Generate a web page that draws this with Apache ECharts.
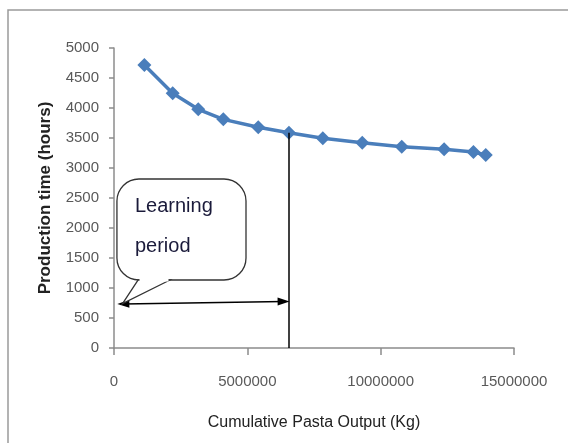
<!DOCTYPE html>
<html><head><meta charset="utf-8">
<script src="https://cdn.jsdelivr.net/npm/echarts@6/dist/echarts.min.js"></script>
<style>html,body{margin:0;padding:0;background:#fff}#c{width:568px;height:443px}</style>
</head><body><div id="c"></div>
<script>
// Data
const outputKg = [1140000, 2200000, 3160000, 4100000, 5410000, 6560000, 7830000, 9310000, 10790000, 12380000, 13480000, 13940000];
const productionHours = [4717, 4245, 3978, 3811, 3678, 3589, 3495, 3422, 3356, 3311, 3267, 3217];
const yTicks = [0, 500, 1000, 1500, 2000, 2500, 3000, 3500, 4000, 4500, 5000];
const xTicks = [0, 5000000, 10000000, 15000000];
const learningEndX = 6560000;
const learningEndY = 3589;
const arrowX = [350000, 6360000];
const arrowY = [735, 775];
const calloutText = ['Learning', 'period'];

const chart = echarts.init(document.getElementById('c'));
const labelFont = 'Liberation Sans';
chart.setOption({
  animation: false,
  grid: { left: 114, top: 48, width: 400, height: 300, containLabel: false },
  xAxis: {
    type: 'value', min: xTicks[0], max: xTicks[xTicks.length - 1], interval: xTicks[1] - xTicks[0],
    name: 'Cumulative Pasta Output (Kg)', nameLocation: 'middle', nameGap: 67,
    nameTextStyle: { fontFamily: labelFont, fontSize: 16, color: '#222' },
    axisLine: { show: true, lineStyle: { color: '#8c8c8c', width: 1.5 } },
    axisTick: { show: true, length: 7, lineStyle: { color: '#8c8c8c', width: 1.5 } },
    axisLabel: { margin: 26, fontFamily: labelFont, fontSize: 15, color: '#595959', formatter: v => String(v) },
    splitLine: { show: false }
  },
  yAxis: {
    type: 'value', min: yTicks[0], max: yTicks[yTicks.length - 1], interval: yTicks[1] - yTicks[0],
    name: 'Production time (hours)', nameLocation: 'middle', nameGap: 60, nameRotate: 90,
    nameTextStyle: { fontFamily: labelFont, fontSize: 17, fontWeight: 'bold', color: '#222' },
    axisLine: { show: true, lineStyle: { color: '#8c8c8c', width: 1.5 } },
    axisTick: { show: true, length: 5, lineStyle: { color: '#8c8c8c', width: 1.5 } },
    axisLabel: { margin: 15, fontFamily: labelFont, fontSize: 15, color: '#595959', formatter: v => String(v) },
    splitLine: { show: false }
  },
  series: [{
    type: 'line',
    data: outputKg.map((x, i) => [x, productionHours[i]]),
    smooth: false,
    symbol: 'diamond', symbolSize: 14,
    lineStyle: { color: '#4a7ebb', width: 3.5 },
    itemStyle: { color: '#4a7ebb' },
    markLine: {
      silent: true, animation: false,
      label: { show: false },
      data: [
        [{ coord: [learningEndX, learningEndY], symbol: 'none', lineStyle: { color: '#000', width: 1.5, type: 'solid' } },
         { coord: [learningEndX, 0], symbol: 'none' }],
        [{ coord: [arrowX[0], arrowY[0]], symbol: 'triangle', symbolSize: [8, 12], lineStyle: { color: '#000', width: 1.5, type: 'solid' } },
         { coord: [arrowX[1], arrowY[1]], symbol: 'triangle', symbolSize: [8, 12] }]
      ]
    }
  }]
});

// Callout placed in data coordinates via the chart's scales
function px(x, y) { return chart.convertToPixel({ gridIndex: 0 }, [x, y]); }
const tl = px(110000, 2817), br = px(4950000, 1133);
const boxL = tl[0], boxT = tl[1], boxR = br[0], boxB = br[1];
const tailA = px(900000, 1133)[0], tailB = px(2100000, 1133)[0];
const tip = px(320000, 740);
chart.setOption({
  graphic: [
    { type: 'rect', shape: { x: 8, y: 10, width: 700, height: 600 }, style: { fill: 'none', stroke: '#9a9a9a', lineWidth: 1.5 }, silent: true, z: -1 },
    { type: 'rect', shape: { x: boxL, y: boxT, width: boxR - boxL, height: boxB - boxT, r: 22 }, style: { fill: '#fff', stroke: '#333', lineWidth: 1.3 }, z: 10 },
    { type: 'polygon', shape: { points: [[tailA, boxB], tip, [tailB, boxB]] }, style: { fill: '#fff', stroke: '#333', lineWidth: 1.3 }, z: 11 },
    { type: 'line', shape: { x1: tailA + 1.5, y1: boxB, x2: tailB - 1.5, y2: boxB }, style: { stroke: '#fff', lineWidth: 3 }, z: 12 },
    { type: 'text', x: boxL + 18, y: boxT + 18, style: { text: calloutText[0], font: '20px Liberation Sans', fill: '#1a1a3a' }, z: 13 },
    { type: 'text', x: boxL + 18, y: boxT + 58, style: { text: calloutText[1], font: '20px Liberation Sans', fill: '#1a1a3a' }, z: 13 }
  ]
});
</script></body></html>
